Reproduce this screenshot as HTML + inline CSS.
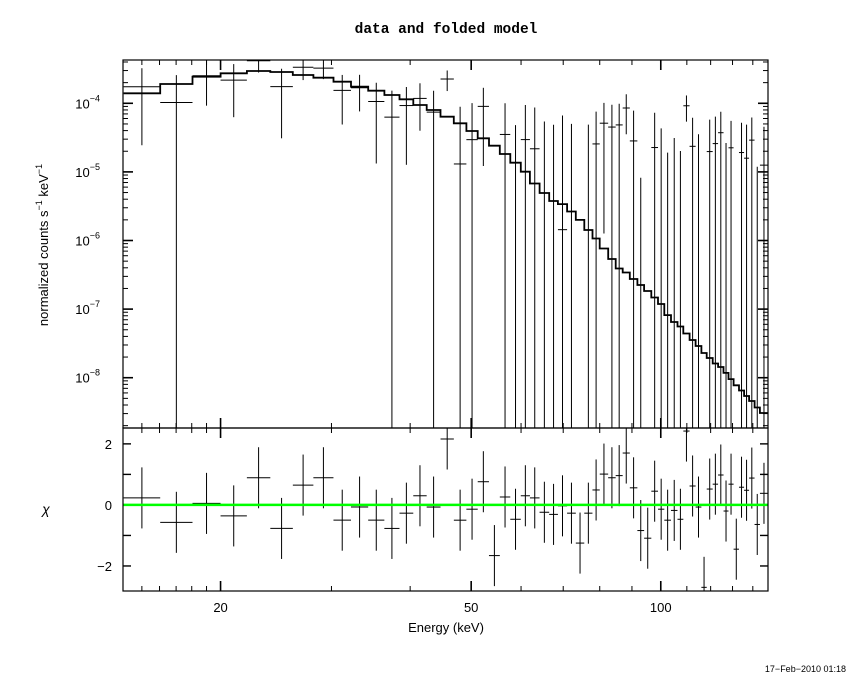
<!DOCTYPE html>
<html><head><meta charset="utf-8"><style>
html,body{margin:0;padding:0;background:#fff;}
svg{display:block;font-family:"Liberation Sans",sans-serif;}
</style></head><body>
<svg id="chart" width="850" height="680" viewBox="0 0 850 680">
<rect x="0" y="0" width="850" height="680" fill="#fff"/>
<text x="446" y="33" text-anchor="middle" font-size="14.5" font-weight="bold" font-family="Liberation Mono, monospace">data and folded model</text>
<g transform="translate(48,245) rotate(-90)">
<text x="0" y="0" text-anchor="middle" font-size="13">normalized counts s<tspan dy="-6" font-size="9">−1</tspan><tspan dy="6"> keV</tspan><tspan dy="-6" font-size="9">−1</tspan></text>
</g>
<text x="46" y="514" text-anchor="middle" font-size="14" font-style="italic">χ</text>
<text x="446" y="632" text-anchor="middle" font-size="13">Energy (keV)</text>
<text x="846" y="672" text-anchor="end" font-size="9">17−Feb−2010 01:18</text>
<defs>
<clipPath id="clipTop"><rect x="123" y="60" width="645" height="368"/></clipPath>
<clipPath id="clipBot"><rect x="123" y="428" width="645" height="163"/></clipPath>
</defs>
<g id="axes"></g>
<g id="topMarks" clip-path="url(#clipTop)"></g>
<g id="botMarks" clip-path="url(#clipBot)"></g>
<rect x="123" y="60" width="645" height="368" fill="none" stroke="#000" stroke-width="1.2"/>
<rect x="123" y="428" width="645" height="163" fill="none" stroke="#000" stroke-width="1.2"/>
</svg>
<script>
const binEdges = [14.03,16.04,18.05,20,22.02,23.99,26.05,28.08,30.22,32.22,34.31,36.4,38.47,40.46,42.49,44.7,46.93,49.13,51.21,53.36,55.52,57.68,59.94,61.98,64.2,66.5,68.66,71.0,73.3,75.6,77.9,80,82.5,84.8,87,89.3,91.8,94.1,96.6,99,101.3,103.8,106.3,108.6,111.1,113.6,116,118.3,120.9,123.3,125.8,128.1,130.5,133.1,135.6,138.1,140.9,143.7,148];
const modelLog = [-3.854,-3.719,-3.612,-3.563,-3.529,-3.544,-3.587,-3.627,-3.685,-3.758,-3.816,-3.879,-3.942,-4.025,-4.098,-4.195,-4.292,-4.404,-4.51,-4.618,-4.739,-4.866,-4.997,-5.169,-5.307,-5.424,-5.47,-5.577,-5.70,-5.847,-5.971,-6.117,-6.27,-6.408,-6.466,-6.561,-6.649,-6.736,-6.831,-6.926,-7.087,-7.188,-7.254,-7.356,-7.45,-7.538,-7.64,-7.713,-7.793,-7.844,-7.93,-8.02,-8.11,-8.187,-8.267,-8.34,-8.434,-8.514];
const chi = [0.23,-0.57,0.05,-0.36,0.89,-0.77,0.65,0.89,-0.5,-0.07,-0.5,-0.77,-0.27,0.3,-0.07,2.16,-0.5,-0.14,0.76,-1.66,0.26,-0.47,0.3,0.23,-0.24,-0.31,-0.03,-0.27,-1.25,-0.27,0.49,1.01,0.89,0.96,1.7,0.56,-0.84,-1.09,0.45,-0.14,-0.5,-0.18,-0.47,2.42,0.62,-0.07,-2.7,0.52,0.68,0.98,-0.2,0.68,-1.45,0.58,0.48,0.88,-0.64,0.38];
const fluxErr = [1.5e-4,1.55e-4,1.6e-4,1.55e-4,1.37e-4,1.44e-4,1.17e-4,1.0e-4,1.05e-4,0.92e-4,0.93e-4,0.9e-4,0.8e-4,0.78e-4,0.78e-4,0.75e-4,7.6e-5,7.1e-5,7.8e-5,7e-5,6.5e-5,6.5e-5,6.5e-5,6.5e-5,6.5e-5,6.5e-5,6.5e-5,6.5e-5,6.5e-5,6.5e-5,5e-5,5e-5,5e-5,5e-5,5e-5,5e-5,5e-5,5e-5,5e-5,5e-5,3.8e-5,3.8e-5,3.8e-5,3.8e-5,3.8e-5,3.8e-5,3.8e-5,3.8e-5,3.8e-5,3.8e-5,3.3e-5,3.3e-5,3.3e-5,3.3e-5,3.3e-5,3.3e-5,3.3e-5,3.3e-5];
const xTickLabels = [20,50,100];
const yTickExps = [-4,-5,-6,-7,-8];
const chiTickLabels = [2,0,-2];

const NS='http://www.w3.org/2000/svg';
const X0=123,X1=768,EMIN=14.0,EMAX=148.0;
const TY0=60,TY1=428,LMAX=-3.369,LMIN=-8.733;
const BY0=428,BY1=591,CMAX=2.52,CMIN=-2.82;
function xs(e){return X0+(Math.log10(e)-Math.log10(EMIN))/(Math.log10(EMAX)-Math.log10(EMIN))*(X1-X0);}
function ysTopLog(l){return TY0+(LMAX-l)/(LMAX-LMIN)*(TY1-TY0);}
function ysTop(v){return v>0?ysTopLog(Math.log10(v)):TY1+50;}
function ysBot(c){return BY0+(CMAX-c)/(CMAX-CMIN)*(BY1-BY0);}
function mk(tag,attrs,parent){const el=document.createElementNS(NS,tag);for(const k in attrs)el.setAttribute(k,attrs[k]);parent.appendChild(el);return el;}
const axes=document.getElementById('axes');
const topG=document.getElementById('topMarks');
const botG=document.getElementById('botMarks');

const minorE=[];
for(let e=15;e<=148;e+= (e<20?1:10)){ if(e<20||e%10===0) minorE.push(e);}
minorE.forEach(e=>{
  const x=xs(e);const major=xTickLabels.indexOf(e)>=0;const L=major?10:5;
  [[TY1,-L],[TY0,L],[BY1,-L],[BY0,L]].forEach(([y,d])=>{
    const t=mk('line',{x1:x,x2:x,y1:y,y2:y+d,stroke:'#000','stroke-width':major?1.6:1},axes);
    
    
  });
});
xTickLabels.forEach(v=>{
  const t=mk('text',{x:xs(v),y:612,'text-anchor':'middle','font-size':13},axes);
  t.textContent=v;
  
  
});
for(let p=-9;p<=-3;p++){
  for(let m=1;m<=9;m++){
    const l=p+Math.log10(m);if(l<LMIN||l>LMAX)continue;
    const y=ysTopLog(l);const L=m===1?10:5;
    [[X0,L],[X1,-L]].forEach(([x,d])=>{
      const t=mk('line',{x1:x,x2:x+d,y1:y,y2:y,stroke:'#000','stroke-width':m===1?1.6:1},axes);
      
      
    });
  }
}
yTickExps.forEach(p=>{
  const t=mk('text',{x:100,y:ysTopLog(p)+5,'text-anchor':'end','font-size':13},axes);
  t.innerHTML='10<tspan dy="-7" font-size="9">−'+(-p)+'</tspan>';
  
  
});
for(let c=-2;c<=2;c++){
  const y=ysBot(c);
  [[X0,8],[X1,-8]].forEach(([x,d])=>{
    const t=mk('line',{x1:x,x2:x+d,y1:y,y2:y,stroke:'#000','stroke-width':1.4},axes);
    
    
  });
}
chiTickLabels.forEach(c=>{
  const t=mk('text',{x:112,y:ysBot(c)+5,'text-anchor':'end','font-size':13},axes);
  t.textContent=c<0?'−'+(-c):String(c);
  
  
});

let d='';
for(let i=0;i<modelLog.length;i++){
  const xa=xs(binEdges[i]),xb=xs(binEdges[i+1]),y=ysTopLog(modelLog[i]);
  d+=(i===0?'M':'L')+xa.toFixed(1)+','+y.toFixed(1)+'L'+xb.toFixed(1)+','+y.toFixed(1);
}
const model=mk('path',{d:d,fill:'none',stroke:'#000','stroke-width':1.8},topG);



for(let i=0;i<chi.length;i++){
  const xa=xs(binEdges[i]),xb=xs(binEdges[i+1]),xc=xs(Math.sqrt(binEdges[i]*binEdges[i+1]));
  const m=Math.pow(10,modelLog[i]);const f=m+chi[i]*fluxErr[i];
  const hi=f+fluxErr[i],lo=f-fluxErr[i];
  if(hi>0){
    const g=mk('g',{},topG);
    
    
    mk('line',{x1:xc,x2:xc,y1:ysTop(hi),y2:ysTop(lo),stroke:'#000','stroke-width':1},g);
    if(f>0) mk('line',{x1:xa,x2:xb,y1:ysTop(f),y2:ysTop(f),stroke:'#000','stroke-width':1},g);
  }
  const r=mk('g',{},botG);
  
  
  mk('line',{x1:xc,x2:xc,y1:ysBot(chi[i]+1),y2:ysBot(chi[i]-1),stroke:'#000','stroke-width':1},r);
  mk('line',{x1:xa,x2:xb,y1:ysBot(chi[i]),y2:ysBot(chi[i]),stroke:'#000','stroke-width':1},r);
}
const zl=mk('line',{x1:X0,x2:X1,y1:ysBot(0),y2:ysBot(0),stroke:'#00ff00','stroke-width':2.5},botG);


</script>
</body></html>
